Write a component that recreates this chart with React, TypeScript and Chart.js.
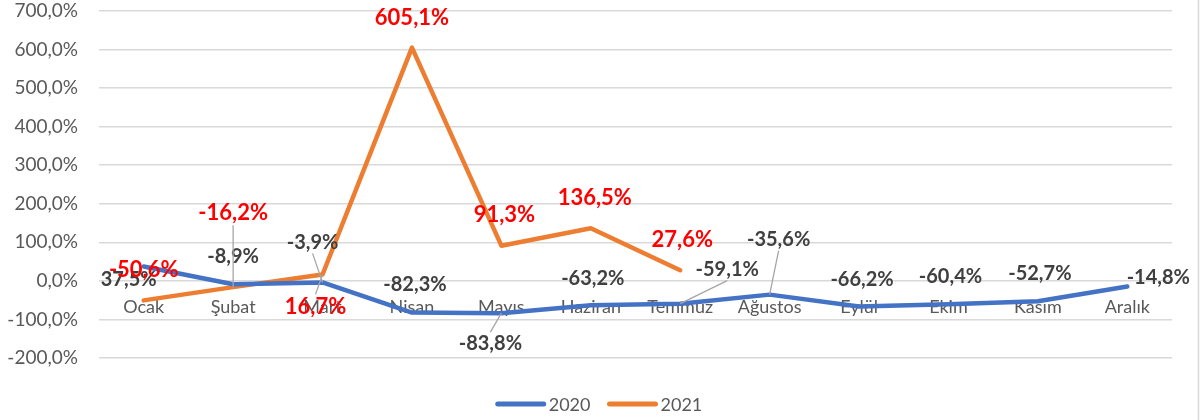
import React, { useEffect, useRef } from "react";
import { Chart, registerables } from "chart.js";

Chart.register(...registerables);

const categories = ["Ocak", "Şubat", "Mart", "Nisan", "Mayıs", "Haziran", "Temmuz", "Ağustos", "Eylül", "Ekim", "Kasım", "Aralık"];
const series2020 = [37.5, -8.9, -3.9, -82.3, -83.8, -63.2, -59.1, -35.6, -66.2, -60.4, -52.7, -14.8];
const series2021 = [-50.6, -16.2, 16.7, 605.1, 91.3, 136.5, 27.6];
const seriesNames = ["2020", "2021"];
const yMin = -200;
const yMax = 700;
const yStep = 100;

// data label placement: [dx, dy, leader line] relative to each point (px)
const labelPlace2020: [number, number, boolean][] = [
  [-15, 13, false], [0, -28, false], [-10, -40, true], [3, -28, false],
  [-11, 30, true], [2, -27, false], [47, -34, true], [9, -55, true],
  [3, -27, false], [2, -28, false], [2, -28, false], [31, -9, false],
];
const labelPlace2021: [number, number, boolean][] = [
  [0, -30, false], [0, -74, true], [-7, 32, true], [0, -30, false],
  [3, -31, false], [4, -30, false], [2, -30, false],
];

const FONT = "Lato, 'Open Sans', sans-serif";
const BLUE = "#4472C4";
const ORANGE = "#ED7D31";

const fmt = (v: number) => v.toFixed(1).replace(".", ",") + "%";

const labelsPlugin = {
  id: "excelLabels",
  afterDatasetsDraw(chart: any) {
    const ctx = chart.ctx;
    const leaders: number[][] = [];
    chart.data.datasets.forEach((ds: any, di: number) => {
      const meta = chart.getDatasetMeta(di);
      const place = di === 0 ? labelPlace2020 : labelPlace2021;
      const size = di === 0 ? 20 : 22;
      ctx.save();
      ctx.font = `bold ${size}px ${FONT}`;
      ctx.fillStyle = di === 0 ? "#404040" : "#FF0000";
      ctx.textAlign = "center";
      ctx.textBaseline = "middle";
      meta.data.forEach((pt: any, i: number) => {
        const p = place[i];
        if (!p) return;
        const lx = pt.x + p[0];
        const ly = pt.y + p[1];
        ctx.fillText(fmt(ds.data[i]), lx, ly);
        if (p[2]) {
          const half = size * 0.55;
          const sy = p[1] < 0 ? ly + half : ly - half;
          leaders.push([lx, sy, pt.x, pt.y]);
        }
      });
      ctx.restore();
    });
    ctx.save();
    ctx.strokeStyle = "#A6A6A6";
    ctx.lineWidth = 1.3;
    leaders.forEach(([x1, y1, x2, y2]) => {
      ctx.beginPath();
      ctx.moveTo(x1, y1);
      ctx.lineTo(x2, y2);
      ctx.stroke();
    });
    ctx.restore();
  },
  afterDraw(chart: any) {
    const ctx = chart.ctx;
    ctx.save();
    // outer frame line on the right
    ctx.strokeStyle = "#D9D9D9";
    ctx.lineWidth = 1.5;
    ctx.beginPath();
    ctx.moveTo(chart.width - 5.5, 0);
    ctx.lineTo(chart.width - 5.5, chart.height);
    ctx.stroke();
    // legend
    ctx.font = `18px ${FONT}`;
    ctx.textBaseline = "middle";
    ctx.textAlign = "left";
    const colors = [BLUE, ORANGE];
    const lineW = 50, gap = 3, itemGap = 17;
    const widths = seriesNames.map((n) => lineW + gap + ctx.measureText(n).width);
    const total = widths.reduce((a, b) => a + b, 0) + itemGap * (widths.length - 1);
    let x = chart.width / 2 - total / 2 - 3;
    const y = 404;
    seriesNames.forEach((n, i) => {
      ctx.strokeStyle = colors[i];
      ctx.lineWidth = 5;
      ctx.lineCap = "round";
      ctx.beginPath();
      ctx.moveTo(x + 2, y);
      ctx.lineTo(x + lineW - 2, y);
      ctx.stroke();
      ctx.fillStyle = "#595959";
      ctx.fillText(n, x + lineW + gap, y + 1);
      x += widths[i] + itemGap;
    });
    ctx.restore();
  },
};

export default function App() {
  const ref = useRef<HTMLCanvasElement | null>(null);
  useEffect(() => {
    let chart: Chart | null = null;
    let cancelled = false;
    const make = () => {
      if (cancelled || !ref.current) return;
      chart = new Chart(ref.current, {
        type: "line",
        data: {
          labels: categories,
          datasets: [
            { label: seriesNames[0], data: series2020, borderColor: BLUE, backgroundColor: BLUE, borderWidth: 4.5, pointRadius: 0, tension: 0, borderCapStyle: "round", borderJoinStyle: "round" },
            { label: seriesNames[1], data: series2021, borderColor: ORANGE, backgroundColor: ORANGE, borderWidth: 4.5, pointRadius: 0, tension: 0, borderCapStyle: "round", borderJoinStyle: "round" },
          ],
        },
        options: {
          animation: false,
          responsive: false,
          maintainAspectRatio: false,
          layout: { padding: { top: 11, right: 32, bottom: 62, left: 0 } },
          plugins: { legend: { display: false }, tooltip: { enabled: false } },
          scales: {
            x: {
              type: "category",
              offset: true,
              position: { y: 0 } as any,
              grid: { display: false, drawTicks: false },
              border: { display: false },
              ticks: { color: "#595959", font: { family: FONT, size: 18 }, padding: 15, maxRotation: 0, autoSkip: false },
            },
            y: {
              min: yMin,
              max: yMax,
              grid: { color: "#D9D9D9", lineWidth: 1.5, drawTicks: true, tickLength: 21, tickColor: "rgba(0,0,0,0)" },
              border: { display: false },
              ticks: { stepSize: yStep, color: "#595959", font: { family: FONT, size: 19, lineHeight: 1.1 }, padding: 0, callback: (v: any) => fmt(Number(v)) },
              afterFit: (s: any) => { s.width = 99; },
            },
          },
        },
        plugins: [labelsPlugin],
      });
    };
    const fonts: any = (document as any).fonts;
    if (fonts && fonts.load) {
      Promise.all([fonts.load(`18px Lato`), fonts.load(`bold 18px Lato`)]).then(make, make);
    } else make();
    return () => { cancelled = true; if (chart) chart.destroy(); };
  }, []);
  return (
    <div style={{ position: "absolute", left: 0, top: 0, width: 1204, height: 420, background: "#fff" }}>
      <canvas ref={ref} width={1204} height={420} />
    </div>
  );
}
